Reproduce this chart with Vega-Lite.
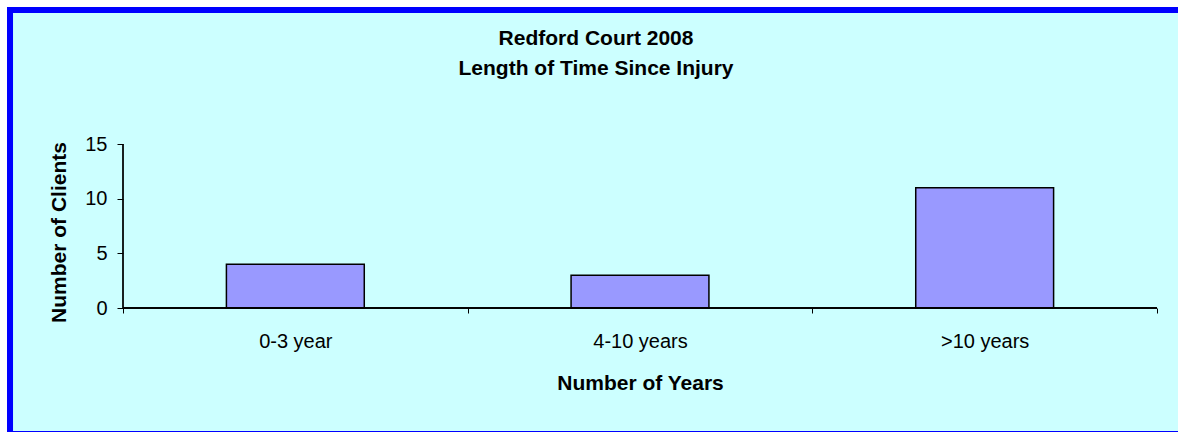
{
  "$schema": "https://vega.github.io/schema/vega-lite/v6.json",
  "width": 1168,
  "height": 422,
  "autosize": "none",
  "padding": {"left": 10, "top": 10, "right": 0, "bottom": 0},
  "background": "#FFFFFF",
  "view": {"fill": "#CCFFFF", "stroke": null},
  "title": {
    "text": ["Redford Court 2008", "Length of Time Since Injury"],
    "font": "Liberation Sans",
    "fontSize": 21,
    "fontWeight": "bold",
    "color": "#000000",
    "lineHeight": 30,
    "baseline": "alphabetic",
    "anchor": "middle",
    "offset": -90,
    "dx": 2
  },
  "config": {
    "font": "Liberation Sans"
  },
  "data": {
    "values": [
      {"category": "0-3 year", "clients": 4},
      {"category": "4-10 years", "clients": 3},
      {"category": ">10 years", "clients": 11}
    ]
  },
  "layer": [
    {
      "mark": {"type": "bar", "width": {"band": 0.4}, "fill": "#9999FF", "stroke": "#000000", "strokeWidth": 1.5},
      "encoding": {
        "x": {
          "field": "category",
          "type": "nominal",
          "sort": null,
          "scale": {"paddingInner": 0, "paddingOuter": 0.1944, "align": 0.8433},
          "axis": {
            "orient": "bottom",
            "offset": -124,
            "domain": false,
            "grid": false,
            "tickBand": "extent",
            "tickSize": 5,
            "tickColor": "#000000",
            "labelAngle": 0,
            "labelFontSize": 20,
            "labelColor": "#000000",
            "labelBaseline": "alphabetic",
            "labelPadding": 34,
            "title": "Number of Years",
            "titleFontSize": 21,
            "titleFontWeight": "bold",
            "titleColor": "#000000",
            "titleX": 630,
            "titleY": 81,
            "titleBaseline": "alphabetic",
            "titleAnchor": "middle"
          }
        },
        "y": {
          "field": "clients",
          "type": "quantitative",
          "scale": {"domain": [-11.341, 27.256], "nice": false, "zero": false},
          "axis": {
            "orient": "left",
            "offset": -113,
            "values": [0, 5, 10, 15],
            "domain": false,
            "grid": false,
            "tickSize": 6,
            "tickColor": "#000000",
            "labelFontSize": 20,
            "labelColor": "#000000",
            "labelPadding": 10,
            "title": "Number of Clients",
            "titleFontSize": 21,
            "titleFontWeight": "bold",
            "titleColor": "#000000",
            "titleX": -58,
            "titleY": 222,
            "titleAngle": 270,
            "titleBaseline": "alphabetic",
            "titleAnchor": "middle"
          }
        }
      }
    },
    {
      "mark": {"type": "rule", "color": "#000000", "strokeWidth": 1.5},
      "encoding": {
        "x": {"datum": "0-3 year", "bandPosition": 0},
        "x2": {"datum": ">10 years", "bandPosition": 1},
        "y": {"datum": 0}
      }
    },
    {
      "mark": {"type": "rule", "color": "#000000", "strokeWidth": 1},
      "encoding": {
        "x": {"datum": "0-3 year", "bandPosition": 0},
        "y": {"datum": 0},
        "y2": {"datum": 15}
      }
    },
    {
      "mark": {"type": "rule", "color": "#0000FF", "strokeWidth": 6, "strokeCap": "square"},
      "encoding": {"y": {"datum": 27.256}}
    },
    {
      "mark": {"type": "rule", "color": "#0000FF", "strokeWidth": 6, "strokeCap": "square"},
      "encoding": {"y": {"datum": -11.524}}
    },
    {
      "mark": {"type": "rule", "color": "#0000FF", "strokeWidth": 6, "strokeCap": "square"},
      "encoding": {"x": {"datum": "0-3 year", "bandPosition": -0.32785}}
    }
  ]
}
